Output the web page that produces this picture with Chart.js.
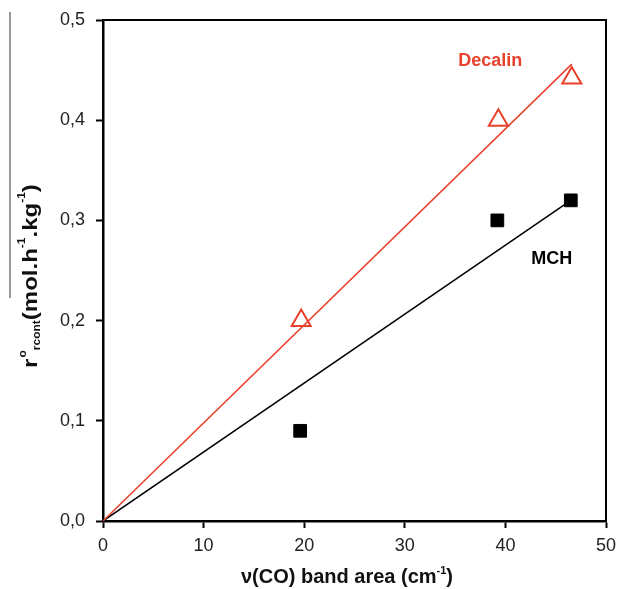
<!DOCTYPE html>
<html>
<head>
<meta charset="utf-8">
<script src="https://cdn.jsdelivr.net/npm/chart.js@4.4.0/dist/chart.umd.min.js"></script>
<style>
  body { margin: 0; background: #fff; }
  canvas { display: block; }
</style>
</head>
<body>
<canvas id="scatterChart" width="619" height="589"></canvas>
<script>
// measured points
const decalinX = [19.7, 39.3, 46.6];
const decalinY = [0.20, 0.40, 0.442];
const mchX = [19.6, 39.2, 46.5];
const mchY = [0.09, 0.30, 0.32];

// fitted lines through origin (end points)
const decalinFitX = [0, 46.6];
const decalinFitY = [0, 0.456];
const mchFitX = [0, 46.5];
const mchFitY = [0, 0.32];

const xTicks = [0, 10, 20, 30, 40, 50];
const yTicks = [0, 0.1, 0.2, 0.3, 0.4, 0.5];

const RED = '#e8412c';
const FONT = '"Liberation Sans", Arial, sans-serif';

function pts(xs, ys) {
    return xs.map((x, i) => ({ x: x, y: ys[i] }));
}

const CTX = document.getElementById('scatterChart').getContext('2d');

const extras = {
    id: 'extras',
    afterDraw(chart) {
        const ctx = chart.ctx;
        const a = chart.chartArea;
        const xs = chart.scales.x, ys = chart.scales.y;
        ctx.save();

        // frame top + right
        ctx.strokeStyle = '#000';
        ctx.lineWidth = 2;
        ctx.beginPath();
        ctx.moveTo(a.left, a.top);
        ctx.lineTo(a.right, a.top);
        ctx.lineTo(a.right, a.bottom);
        ctx.stroke();

        // series labels
        ctx.font = 'bold 18px ' + FONT;
        ctx.textAlign = 'center';
        ctx.textBaseline = 'middle';
        ctx.fillStyle = RED;
        ctx.fillText('Decalin', xs.getPixelForValue(38.5), ys.getPixelForValue(0.459));
        ctx.fillStyle = '#000';
        ctx.fillText('MCH', xs.getPixelForValue(44.6), ys.getPixelForValue(0.261));

        // x title
        const big = 'bold 20px ' + FONT;
        const small = 'bold 11px ' + FONT;
        ctx.fillStyle = '#111';
        ctx.textAlign = 'left';
        ctx.textBaseline = 'alphabetic';
        let parts = [
            { t: 'ν(CO) band area (cm', f: big, dy: 0 },
            { t: '-1', f: small, dy: -9 },
            { t: ')', f: big, dy: 0 }
        ];
        let w = 0;
        parts.forEach(p => { ctx.font = p.f; w += ctx.measureText(p.t).width; });
        let cx = 347 - w / 2;
        parts.forEach(p => {
            ctx.font = p.f;
            ctx.fillText(p.t, cx, 583 + p.dy);
            cx += ctx.measureText(p.t).width;
        });

        // y title, rotated and a bit stretched along the text
        ctx.translate(37, 368);
        ctx.rotate(-Math.PI / 2);
        ctx.scale(1.2, 1);
        const yb = 'bold 20px ' + FONT;
        const ys2 = 'bold 10px ' + FONT;
        parts = [
            { t: 'r', f: yb, dy: 0 },
            { t: 'o', f: ys2, dy: -11 },
            { t: 'rcont', f: ys2, dy: 3 },
            { t: '(mol.h', f: yb, dy: 0 },
            { t: '-1', f: ys2, dy: -12 },
            { t: '.kg', f: yb, dy: 0 },
            { t: '-1', f: ys2, dy: -12 },
            { t: ')', f: yb, dy: 0 }
        ];
        let px = 0;
        parts.forEach(p => {
            ctx.font = p.f;
            ctx.fillText(p.t, px, p.dy);
            px += ctx.measureText(p.t).width + (p.t === 'r' ? 1 : 0);
        });
        ctx.restore();

        // odd overbar left of the y title
        ctx.save();
        ctx.strokeStyle = '#777';
        ctx.lineWidth = 1.5;
        ctx.beginPath();
        ctx.moveTo(10, 12);
        ctx.lineTo(10, 298);
        ctx.stroke();
        ctx.restore();
    }
};

let scatterChart = new Chart(CTX, {
    type: 'scatter',
    data: {
        datasets: [{
            label: 'Decalin fit',
            data: pts(decalinFitX, decalinFitY),
            showLine: true,
            borderColor: RED,
            borderWidth: 1.5,
            pointRadius: 0
        }, {
            label: 'MCH fit',
            data: pts(mchFitX, mchFitY),
            showLine: true,
            borderColor: '#000',
            borderWidth: 1.5,
            pointRadius: 0
        }, {
            label: 'Decalin',
            data: pts(decalinX, decalinY),
            pointStyle: 'triangle',
            pointRadius: 11,
            backgroundColor: '#fff',
            borderColor: RED,
            borderWidth: 2
        }, {
            label: 'MCH',
            data: pts(mchX, mchY),
            pointStyle: 'rect',
            pointRadius: 9,
            backgroundColor: '#000',
            borderColor: '#000',
            borderWidth: 1
        }]
    },
    options: {
        responsive: false,
        animation: false,
        layout: { padding: { top: 20, right: 13, left: 0, bottom: 0 } },
        plugins: {
            legend: { display: false },
            tooltip: { enabled: false }
        },
        scales: {
            x: {
                type: 'linear',
                min: 0,
                max: 50,
                afterFit(scale) {
                    scale.height = 68;
                    scale.paddingLeft = 0;
                    scale.paddingRight = 0;
                },
                afterBuildTicks(scale) { scale.ticks = xTicks.map(v => ({ value: v })); },
                ticks: {
                    color: '#222',
                    padding: 7,
                    font: { family: FONT, size: 18 },
                    callback: v => String(v)
                },
                grid: {
                    drawOnChartArea: false,
                    drawTicks: true,
                    tickLength: 7,
                    tickWidth: 2,
                    tickColor: '#000'
                },
                border: { display: true, color: '#000', width: 2.5 }
            },
            y: {
                type: 'linear',
                min: 0,
                max: 0.5,
                afterFit(scale) {
                    scale.width = 103;
                    scale.paddingTop = 0;
                    scale.paddingBottom = 0;
                },
                afterBuildTicks(scale) { scale.ticks = yTicks.map(v => ({ value: v })); },
                ticks: {
                    color: '#222',
                    padding: 11,
                    font: { family: FONT, size: 18 },
                    callback: v => v.toFixed(1).replace('.', ',')
                },
                grid: {
                    drawOnChartArea: false,
                    drawTicks: true,
                    tickLength: 7,
                    tickWidth: 2,
                    tickColor: '#000'
                },
                border: { display: true, color: '#000', width: 2.5 }
            }
        }
    },
    plugins: [extras]
});
</script>
</body>
</html>
